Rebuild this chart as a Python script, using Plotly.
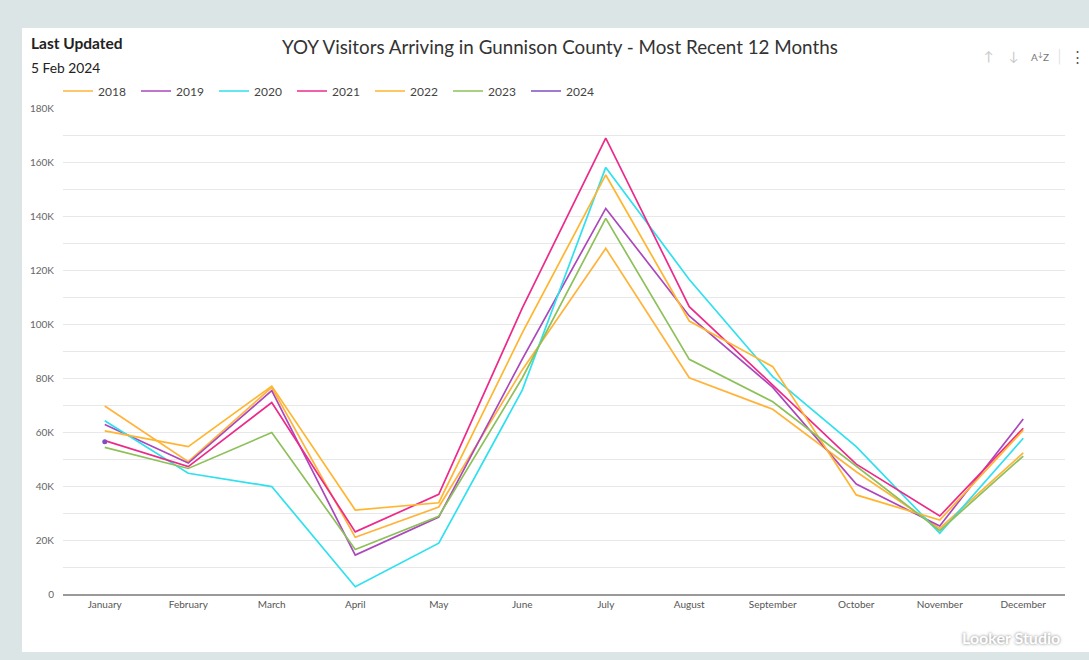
import plotly.graph_objects as go

months = ["January", "February", "March", "April", "May", "June", "July",
          "August", "September", "October", "November", "December"]

v2018 = [69600, 49000, 76500, 21000, 32200, 83000, 128000, 80100, 68400, 45300, 24300, 52300]
v2019 = [62800, 48500, 75300, 14400, 28500, 87000, 142800, 103000, 76500, 40700, 25200, 64800]
v2020 = [64200, 44700, 39800, 2700, 18800, 75500, 158000, 116500, 80500, 54600, 22500, 57700]
v2021 = [56800, 47200, 70900, 23000, 36900, 105900, 168800, 106400, 77400, 48100, 28900, 61400]
v2022 = [60400, 54600, 77000, 31100, 33800, 96700, 155200, 101100, 84200, 36700, 27400, 60700]
v2023 = [54300, 46500, 59800, 16500, 28800, 80000, 139100, 86900, 71200, 47200, 23500, 51100]
v2024 = [56400]

series_names = ["2018", "2019", "2020", "2021", "2022", "2023", "2024"]
series_values = [v2018, v2019, v2020, v2021, v2022, v2023, v2024]
series_colors = ["#FFB33A", "#AB47BC", "#2FE0EE", "#EC2A8A", "#FFB52E", "#8DC05A", "#7B4FC0"]

y_tickvals = [0, 20000, 40000, 60000, 80000, 100000, 120000, 140000, 160000, 180000]
y_ticktext = ["0", "20K", "40K", "60K", "80K", "100K", "120K", "140K", "160K", "180K"]

W, H = 1089, 660
L, R, T, B = 63, 24, 108, 66
pw, ph = W - L - R, H - T - B

def px(x):
    return (x - L) / pw

def py(y):
    return (H - B - y) / ph

fig = go.Figure()
for name, vals, col in zip(series_names, series_values, series_colors):
    x = months[:len(vals)]
    fig.add_trace(go.Scatter(
        x=x, y=vals, name=name, legendgroup=name, mode="lines",
        line=dict(color=col, width=1.7),
    ))
    if len(vals) == 1:
        fig.add_trace(go.Scatter(
            x=x, y=vals, name=name, legendgroup=name, mode="markers",
            marker=dict(size=5, color=col), showlegend=False,
        ))

font = "Lato, 'Open Sans', sans-serif"

fig.update_layout(
    width=W, height=H,
    margin=dict(l=L, r=R, t=T, b=B, pad=0),
    paper_bgcolor="#DCE5E6",
    plot_bgcolor="white",
    font=dict(family=font, color="#444"),
    showlegend=True,
    legend=dict(orientation="h", x=px(58), xanchor="left", y=py(91), yanchor="middle",
                font=dict(size=12, color="#444"), bgcolor="rgba(0,0,0,0)",
                itemwidth=30, entrywidth=33, entrywidthmode="pixels",
                traceorder="normal"),
    xaxis=dict(type="category", range=[-0.5, 11.5], showgrid=False,
               showline=True, linecolor="#9a9a9a", linewidth=1.5,
               ticks="", tickfont=dict(size=10, color="#555"), fixedrange=True),
    yaxis=dict(range=[0, 180000], tickvals=y_tickvals, ticktext=y_ticktext,
               showgrid=True, gridcolor="#E8E8E8", gridwidth=1,
               minor=dict(dtick=10000, tick0=0, showgrid=True, gridcolor="#E8E8E8", gridwidth=1),
               zeroline=False, showline=False, ticks="", ticklabelstandoff=8,
               tickfont=dict(size=10, color="#666"), fixedrange=True),
    shapes=[dict(type="rect", xref="paper", yref="paper", layer="below",
                 x0=px(22), x1=px(1095), y0=py(652), y1=py(28),
                 fillcolor="white", line=dict(width=0))],
    annotations=[
        dict(text="<b>Last Updated</b>", xref="paper", yref="paper", x=px(29), y=py(43),
             xanchor="left", yanchor="middle", showarrow=False,
             font=dict(size=15.5, color="#222")),
        dict(text="5 Feb 2024", xref="paper", yref="paper", x=px(29), y=py(67),
             xanchor="left", yanchor="middle", showarrow=False,
             font=dict(size=13.8, color="#222")),
        dict(text="YOY Visitors Arriving in Gunnison County - Most Recent 12 Months",
             xref="paper", yref="paper", x=px(560), y=py(47),
             xanchor="center", yanchor="middle", showarrow=False,
             font=dict(size=18.8, color="#333")),
        dict(text="↑", xref="paper", yref="paper", x=px(989), y=py(56),
             xanchor="center", yanchor="middle", showarrow=False,
             font=dict(size=13, color="#C8C8C8")),
        dict(text="↓", xref="paper", yref="paper", x=px(1014), y=py(56),
             xanchor="center", yanchor="middle", showarrow=False,
             font=dict(size=13, color="#C8C8C8")),
        dict(text="A<sup>↓</sup>Z", xref="paper", yref="paper", x=px(1040), y=py(56),
             xanchor="center", yanchor="middle", showarrow=False,
             font=dict(size=10, color="#777")),
        dict(text="│", xref="paper", yref="paper", x=px(1059), y=py(56),
             xanchor="center", yanchor="middle", showarrow=False,
             font=dict(size=14, color="#DDD")),
        dict(text="⋮", xref="paper", yref="paper", x=px(1077), y=py(56),
             xanchor="center", yanchor="middle", showarrow=False,
             font=dict(size=15, color="#555")),
        dict(text="<b>Looker Studio</b>", xref="paper", yref="paper", x=px(1011), y=py(637),
             xanchor="center", yanchor="middle", showarrow=False,
             font=dict(size=16, color="#FFFFFF", shadow="0px 0px 3px #777")),
    ],
)

fig.write_html("out.html", config={"displayModeBar": False},
               post_script="document.body.style.margin='0';")
